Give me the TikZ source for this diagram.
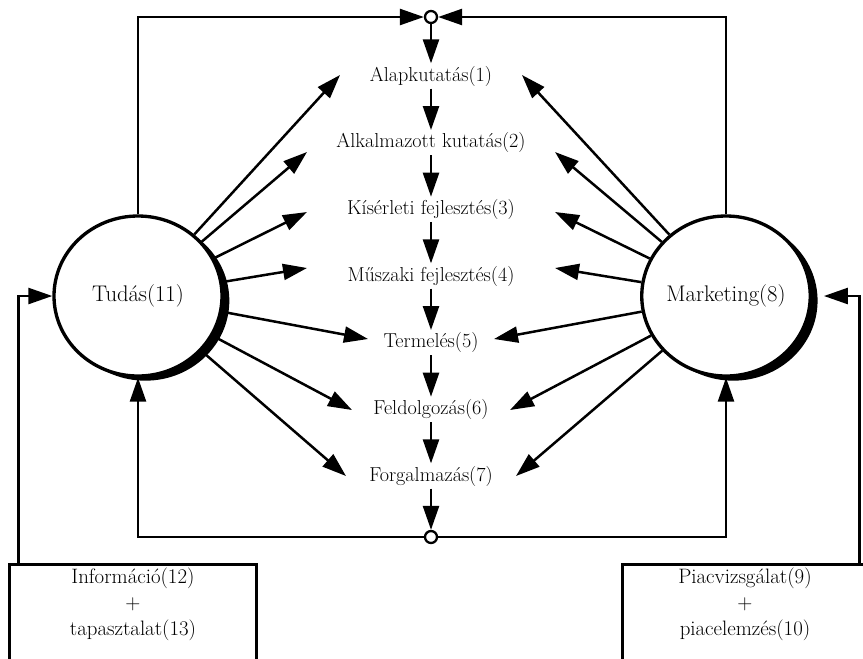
\documentclass[tikz,border=0pt]{standalone}
\usetikzlibrary{positioning}
\usetikzlibrary{arrows.meta}
\usetikzlibrary{shapes.geometric}
\usetikzlibrary{shadows}
\usetikzlibrary{calc}
\tikzset{node distance=2cm, % Distance between the stages of the middle column
every node/.style={font=\fontsize{17.2}{20}\selectfont},
stage/.style={inner sep=2pt}, % Stages of the middle column
actor/.style={ % The two big circles
ellipse, draw, line width=0.1cm, fill=white, inner sep=0pt,
minimum width=5.04cm, minimum height=4.8cm,
font=\fontsize{19.3}{23}\selectfont,
drop shadow={shadow xshift=0.22cm, shadow yshift=-0.14cm, fill=black, opacity=1}},
junction/.style={circle, draw, line width=0.07cm, fill=white,
inner sep=0pt, minimum size=0.36cm}, % Small summing circles
source/.style={ % Boxes at the bottom
draw, line width=0.09cm, anchor=north, align=center,
minimum width=7.38cm, inner sep=0.1cm, text depth=3cm,
font=\fontsize{17.8}{22}\selectfont},
flow/.style={ % Every arrow
draw, line width=0.075cm,
-{Triangle[length=0.72cm, width=0.48cm]}}}

\begin{document}
\begin{tikzpicture}[x=0.03cm, y=-0.03cm]
                \useasboundingbox (0,0) rectangle (863,658);
                \node[stage] (n1) at (431,76) {Alapkutatás(1)};
                \node[stage, below of = n1] (n2) {Alkalmazott kutatás(2)};
                \node[stage, below of = n2] (n3) {Kísérleti fejlesztés(3)};
                \node[stage, below of = n3] (n4) {Műszaki fejlesztés(4)};
                \node[stage, below of = n4] (n5) {Termelés(5)};
                \node[stage, below of = n5] (n6) {Feldolgozás(6)};
                \node[stage, below of = n6] (n7) {Forgalmazás(7)};
                
                \node[actor] (tudas) at (138,296) {Tudás(11)};
                \node[actor] (marketing) at (726,296) {Marketing(8)};
                \node[junction] (top) at (431,17) {};
                \node[junction] (bot) at (431,537) {};
                \node[source] (info) at (133,563) {Információ(12)\\+\\tapasztalat(13)};
                \node[source] (piac) at (745,563) {Piacvizsgálat(9)\\+\\piacelemzés(10)};
                
                % arrow tips next to the stages
                \coordinate (lt1) at (340,75);  \coordinate (rt1) at (522,75);
                \coordinate (lt2) at (307,152); \coordinate (rt2) at (555,152);
                \coordinate (lt3) at (307,212); \coordinate (rt3) at (555,212);
                \coordinate (lt4) at (307,268); \coordinate (rt4) at (555,268);
                \coordinate (lt5) at (368,339); \coordinate (rt5) at (494,339);
                \coordinate (lt6) at (352,410); \coordinate (rt6) at (510,410);
                \coordinate (lt7) at (346,476); \coordinate (rt7) at (516,476);
                
                \foreach \i in {1,...,7}{
                    \draw[flow] (tudas) -- (lt\i);
                    \draw[flow] (marketing) -- (rt\i);
                }
                
                \draw[flow] (top) -- (n1);
                \foreach \a/\b in {n1/n2, n2/n3, n3/n4, n4/n5, n5/n6, n6/n7}
                    \draw[flow] (\a) -- (\b);
                \draw[flow] (n7) -- (bot);
                
                \draw[flow] (tudas.north) |- (top);
                \draw[flow] (marketing.north) |- (top);
                \draw[flow] (bot) -| (tudas.south);
                \draw[flow] (bot) -| (marketing.south);
                \draw[flow] ($(info.north west)+(10,0)$) |- (tudas);
                \draw[flow, shorten >=0.36cm] ($(piac.north east)+(-10,0)$) |- (marketing);
            \end{tikzpicture}
\end{document}
